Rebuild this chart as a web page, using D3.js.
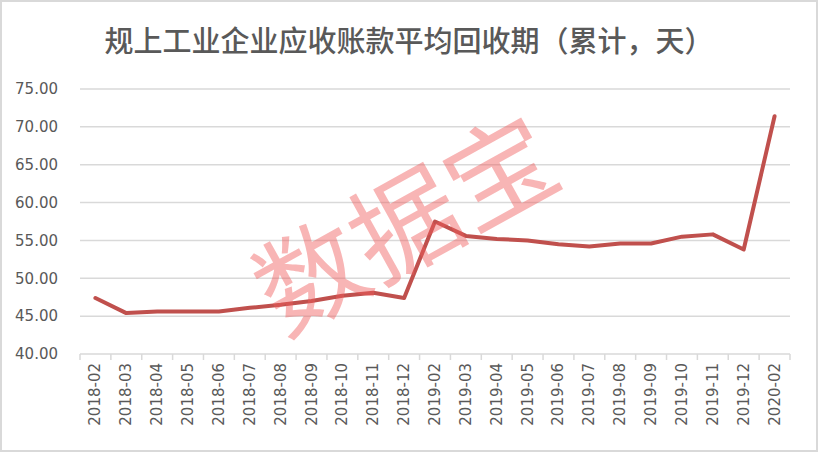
<!DOCTYPE html>
<html><head><meta charset="utf-8">
<script src="https://cdn.jsdelivr.net/npm/d3@7/dist/d3.min.js"></script>
<style>body{margin:0;background:#fff}svg{display:block}</style>
</head><body><svg id="c" width="818" height="452"></svg>
<script>
const titleText = "规上工业企业应收账款平均回收期（累计，天）";
const categories = ["2018-02","2018-03","2018-04","2018-05","2018-06","2018-07","2018-08","2018-09","2018-10","2018-11","2018-12","2019-02","2019-03","2019-04","2019-05","2019-06","2019-07","2019-08","2019-09","2019-10","2019-11","2019-12","2020-02"];
const values = [47.4,45.4,45.6,45.6,45.6,46.1,46.5,47.0,47.7,48.1,47.4,57.5,55.6,55.2,55.0,54.5,54.2,54.6,54.6,55.5,55.8,53.8,71.4];
const yTicks = [40,45,50,55,60,65,70,75];
const watermark = "数据宝";

const svg = d3.select("#c");
const W = 818, H = 452;
svg.append("rect").attr("x",1).attr("y",1).attr("width",W-2).attr("height",H-2)
  .attr("fill","#fff").attr("stroke","#d9d9d9").attr("stroke-width",2);

svg.append("text").attr("x",409).attr("y",52).attr("text-anchor","middle")
  .attr("font-family","'Noto Sans CJK SC'").attr("font-weight",500).attr("font-size",29).attr("fill","#595959")
  .text(titleText);

const x = d3.scalePoint().domain(categories).range([80+710/categories.length/2, 790-710/categories.length/2]);
const xb = d3.scaleBand().domain(categories).range([80,790]);
const y = d3.scaleLinear().domain([40,75]).range([354,89]);

// gridlines
svg.append("g").selectAll("line").data(yTicks.filter(d=>d>40)).join("line")
  .attr("x1",80).attr("x2",790).attr("y1",d=>y(d)).attr("y2",d=>y(d))
  .attr("stroke","#d9d9d9").attr("stroke-width",1.5);

// y axis labels
const yAxis = d3.axisLeft(y).tickValues(yTicks).tickFormat(d3.format(".2f")).tickSize(0).tickPadding(22);
const gy = svg.append("g").attr("transform","translate(80,0)").call(yAxis);
gy.select(".domain").remove();
gy.selectAll("text").attr("font-family","'DejaVu Sans'").attr("font-size",15).attr("fill","#595959");

// x axis
const gx = svg.append("g").attr("transform","translate(0,354)");
gx.append("line").attr("x1",80).attr("x2",790).attr("stroke","#d9d9d9").attr("stroke-width",1.5);
const bounds = categories.map(c=>xb(c)).concat([790]);
gx.selectAll("line.tk").data(bounds).join("line").attr("class","tk")
  .attr("x1",d=>d).attr("x2",d=>d).attr("y1",0).attr("y2",6)
  .attr("stroke","#d9d9d9").attr("stroke-width",1.5);
gx.selectAll("text").data(categories).join("text")
  .attr("transform",d=>`translate(${x(d)+5},9) rotate(-90)`)
  .attr("text-anchor","end")
  .attr("font-family","'DejaVu Sans'").attr("font-size",15).attr("fill","#595959")
  .text(d=>d);

// line
const line = d3.line().x((d,i)=>x(categories[i])).y(d=>y(d));
svg.append("path").datum(values).attr("d",line)
  .attr("fill","none").attr("stroke","#c0504d").attr("stroke-width",4)
  .attr("stroke-linejoin","round").attr("stroke-linecap","round");

// watermark
svg.append("text").attr("transform","translate(402,218) rotate(-29)")
  .attr("text-anchor","middle").attr("dominant-baseline","central")
  .attr("font-family","'Noto Sans CJK SC'").attr("font-weight",400).attr("font-size",108)
  .attr("fill","rgb(240,90,90)").attr("fill-opacity",0.45)
  .text(watermark);
</script></body></html>
